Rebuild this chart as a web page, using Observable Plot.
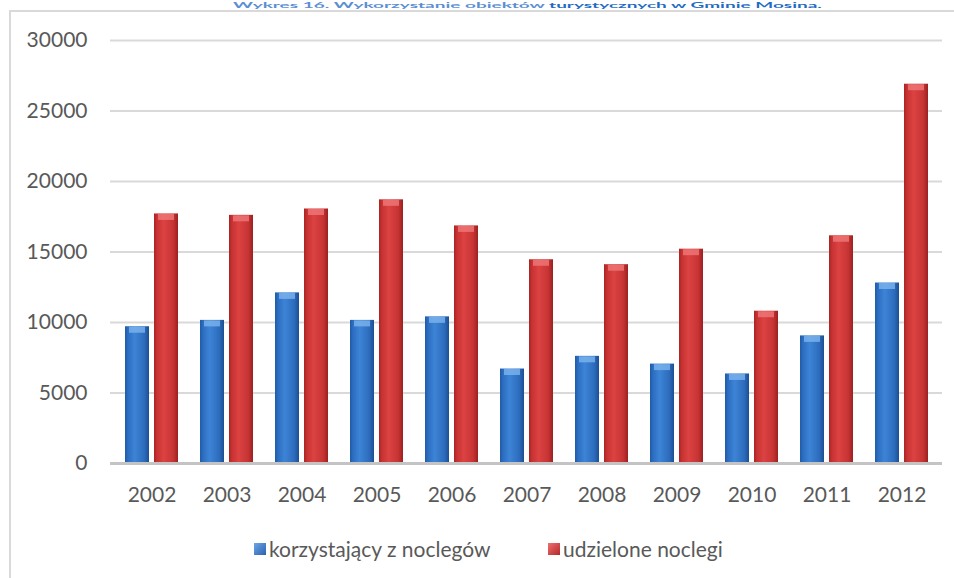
<!DOCTYPE html>
<html>
<head>
<meta charset="utf-8">
<script src="https://cdn.jsdelivr.net/npm/d3@7"></script>
<script src="https://cdn.jsdelivr.net/npm/@observablehq/plot@0.6"></script>
<style>
  html, body { margin: 0; padding: 0; background: #fff; }
  #wrap { position: relative; width: 954px; height: 578px; overflow: hidden; font-family: Lato, "Open Sans", sans-serif; }
  #frame { position: absolute; left: 9px; top: 10px; width: 1000px; height: 600px; border-left: 2px solid #d9d9d9; border-top: 2px solid #d9d9d9; }
  #title { position: absolute; left: 233px; top: 0px; white-space: nowrap; font-weight: bold; font-size: 19px; line-height: 23px; transform: scaleY(0.44); transform-origin: 0 0; }
  #chart { position: absolute; left: 0; top: 0; }
  .leg { position: absolute; top: 536px; font-size: 21px; color: #595959; line-height: 26px; display: flex; align-items: center; white-space: nowrap; }
  .sw { width: 12px; height: 12px; margin-right: 3px; display: inline-block; }
</style>
</head>
<body>
<div id="wrap">
  <div id="frame"></div>
  <div id="title"><span style="color:#5b8fd3">Wykres 16. Wykorzystanie obiektów </span><span style="color:#1f6cc4">turystycznych w Gminie Mosina.</span></div>
  <div id="chart"></div>
  <div class="leg" id="leg1" style="left:254px"><span class="sw" style="background:linear-gradient(135deg,#6ea6e6,#2a62b0)"></span><span id="l1"></span></div>
  <div class="leg" id="leg2" style="left:548px"><span class="sw" style="background:linear-gradient(135deg,#ee7070,#b52828)"></span><span id="l2"></span></div>
</div>
<script>
const years = ["2002","2003","2004","2005","2006","2007","2008","2009","2010","2011","2012"];
const korzystajacy = [9700, 10150, 12100, 10150, 10400, 6700, 7600, 7050, 6350, 9050, 12800];
const udzielone = [17700, 17600, 18050, 18700, 16850, 14450, 14100, 15200, 10800, 16150, 26900];
const yTicks = [0, 5000, 10000, 15000, 20000, 25000, 30000];
const seriesNames = ["korzystający z noclegów", "udzielone noclegi"];

document.getElementById("l1").textContent = seriesNames[0];
document.getElementById("l2").textContent = seriesNames[1];

const dataK = years.map((year, i) => ({year, value: korzystajacy[i]}));
const dataU = years.map((year, i) => ({year, value: udzielone[i]}));

const half = 29;

const chart = Plot.plot({
  width: 954,
  height: 520,
  marginLeft: 110,
  marginRight: 12,
  marginTop: 40,
  marginBottom: 57,
  style: {fontFamily: "Lato, 'Open Sans', sans-serif", fontSize: "21px", color: "#595959", background: "transparent"},
  x: {domain: years, paddingInner: 0.3, paddingOuter: 0.15, label: null, tickSize: 0, tickPadding: 24},
  y: {domain: [0, 30000], ticks: yTicks, label: null, tickSize: 0, tickPadding: 23, tickFormat: d => String(d)},
  marks: [
    Plot.ruleY(yTicks.filter(d => d > 0), {stroke: "#d9d9d9", strokeWidth: 2}),
    Plot.barY(dataK, {x: "year", y: "value", fill: "url(#gBlue)", insetRight: half}),
    Plot.barY(dataU, {x: "year", y: "value", fill: "url(#gRed)", insetLeft: half}),
    Plot.tickY(dataK, {x: "year", y: "value", stroke: "#7db4ee", strokeWidth: 6, dy: 3, insetRight: half + 4, insetLeft: 4, strokeOpacity: 0.8}),
    Plot.tickY(dataU, {x: "year", y: "value", stroke: "#f07878", strokeWidth: 6, dy: 3, insetLeft: half + 4, insetRight: 4, strokeOpacity: 0.8}),
    Plot.ruleY([0], {stroke: "#c4c4c4", strokeWidth: 3})
  ]
});

const ns = "http://www.w3.org/2000/svg";
const defs = document.createElementNS(ns, "defs");
function grad(id, stops) {
  const g = document.createElementNS(ns, "linearGradient");
  g.setAttribute("id", id);
  g.setAttribute("x1", "0"); g.setAttribute("x2", "1"); g.setAttribute("y1", "0"); g.setAttribute("y2", "0");
  for (const [o, c] of stops) {
    const s = document.createElementNS(ns, "stop");
    s.setAttribute("offset", o);
    s.setAttribute("stop-color", c);
    g.appendChild(s);
  }
  defs.appendChild(g);
}
grad("gBlue", [["0", "#1f5aa6"], ["0.12", "#2c6dc0"], ["0.4", "#3d84d6"], ["0.8", "#2d6cbd"], ["1", "#1c4f92"]]);
grad("gRed", [["0", "#a82424"], ["0.12", "#c73232"], ["0.4", "#dc4242"], ["0.8", "#c73434"], ["1", "#9c2020"]]);
chart.insertBefore(defs, chart.firstChild);

document.getElementById("chart").appendChild(chart);
</script>
</body>
</html>
